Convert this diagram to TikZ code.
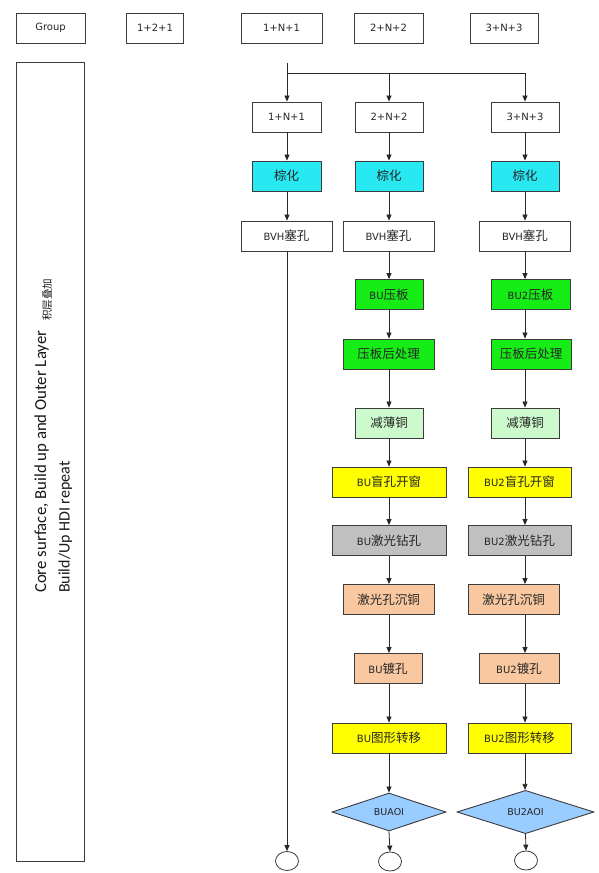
\documentclass[tikz,border=0pt]{standalone}
\usepackage{fontspec}
\setmainfont{DejaVu Sans}
\newfontfamily\cjkf{Noto Sans CJK SC}
\newfontfamily\calf{Carlito}
\usetikzlibrary{arrows.meta,shapes.geometric}
\newcommand\zh[1]{{\cjkf\fontsize{12.5}{14}\selectfont #1}}
\definecolor{boxline}{RGB}{60,60,60}
\definecolor{lineclr}{RGB}{40,40,40}
\definecolor{cyanf}{RGB}{40,232,242}
\definecolor{greenf}{RGB}{22,236,22}
\definecolor{lgreenf}{RGB}{204,250,204}
\definecolor{yellowf}{RGB}{255,255,0}
\definecolor{grayf}{RGB}{192,192,192}
\definecolor{peachf}{RGB}{250,200,160}
\definecolor{bluef}{RGB}{153,204,255}
\begin{document}
\begin{tikzpicture}[x=1pt,y=-1pt,
  box/.style={draw=boxline, line width=0.9pt, minimum height=30pt, inner sep=0pt,
    font=\fontsize{10}{12}\selectfont, text=black!85},
  dia/.style={draw=boxline, line width=0.9pt, diamond, fill=bluef, inner sep=0pt,
    minimum height=38pt, font=\fontsize{9.5}{11}\selectfont, text=black!85},
  endc/.style={draw=boxline, line width=0.8pt, ellipse, inner sep=0pt, minimum width=23pt, minimum height=19pt},
  arr/.style={draw=lineclr, line width=0.8pt, -{Triangle[length=6pt,width=5pt]}},
  ln/.style={draw=lineclr, line width=0.8pt}]
\useasboundingbox (0,0) rectangle (599,873);
\fill[white] (0,0) rectangle (599,873);

% header row
\node[box, minimum width=69pt] (hg) at (50.5,28) {Group};
\node[box, minimum width=57pt] (h0) at (155,28) {1+2+1};
\node[box, minimum width=81pt] (h1) at (281.5,28) {1+N+1};
\node[box, minimum width=69pt] (h2) at (388.5,28) {2+N+2};
\node[box, minimum width=68pt] (h3) at (504,28) {3+N+3};

% big left box
\node[draw=boxline, line width=0.9pt, minimum width=68.5pt, minimum height=799pt, inner sep=0pt] (big) at (50.4,462.2) {};
\node[rotate=90, anchor=base west, inner sep=0pt, font=\calf\fontsize{16.8}{18}\selectfont, text=black!90] (lab1) at (46,593)
  {Core surface, Build up and Outer Layer\hspace{10pt}\raisebox{-5pt}{\cjkf\fontsize{10.5}{12}\selectfont 积层叠加}};
\node[rotate=90, anchor=base west, inner sep=0pt, font=\calf\fontsize{16}{18}\selectfont, text=black!90] (lab2) at (69.5,593)
  {Build/Up HDI repeat};

% column axes
\coordinate (X1) at (287,0);
\coordinate (X2) at (389,0);
\coordinate (X3) at (525,0);

% column 1
\node[box, minimum width=69pt] (a1) at (286.5,117) {1+N+1};
\node[box, minimum width=69pt, fill=cyanf] (a2) at (286.5,176) {\zh{棕化}};
\node[box, minimum width=91pt] (a3) at (286.5,236) {BVH\zh{塞孔}};
\node[endc] (ao) at (287,861) {};

% column 2
\node[box, minimum width=68pt] (b1) at (389,117) {2+N+2};
\node[box, minimum width=68pt, fill=cyanf] (b2) at (389,176) {\zh{棕化}};
\node[box, minimum width=91pt] (b3) at (388.5,236) {BVH\zh{塞孔}};
\node[box, minimum width=68pt, fill=greenf] (b4) at (389,294.5) {BU\zh{压板}};
\node[box, minimum width=91pt, fill=greenf] (b5) at (388.5,354) {\zh{压板后处理}};
\node[box, minimum width=68pt, fill=lgreenf] (b6) at (389,423) {\zh{减薄铜}};
\node[box, minimum width=114pt, fill=yellowf] (b7) at (389,482) {BU\zh{盲孔开窗}};
\node[box, minimum width=114pt, fill=grayf] (b8) at (389,540.5) {BU\zh{激光钻孔}};
\node[box, minimum width=91pt, fill=peachf] (b9) at (388.5,599.5) {\zh{激光孔沉铜}};
\node[box, minimum width=68pt, fill=peachf] (b10) at (388,668.5) {BU\zh{镀孔}};
\node[box, minimum width=114pt, fill=yellowf] (b11) at (389,738) {BU\zh{图形转移}};
\node[dia, minimum width=114pt] (b12) at (389,812) {BUAOI};
\node[endc] (bo) at (390,861.5) {};

% column 3
\node[box, minimum width=68pt] (c1) at (525,117) {3+N+3};
\node[box, minimum width=68pt, fill=cyanf] (c2) at (525,176) {\zh{棕化}};
\node[box, minimum width=91pt] (c3) at (525,236) {BVH\zh{塞孔}};
\node[box, minimum width=79pt, fill=greenf] (c4) at (530.5,294.5) {BU2\zh{压板}};
\node[box, minimum width=80pt, fill=greenf] (c5) at (531,354) {\zh{压板后处理}};
\node[box, minimum width=68pt, fill=lgreenf] (c6) at (525,423) {\zh{减薄铜}};
\node[box, minimum width=103pt, fill=yellowf] (c7) at (519.5,482) {BU2\zh{盲孔开窗}};
\node[box, minimum width=103pt, fill=grayf] (c8) at (519.5,540.5) {BU2\zh{激光钻孔}};
\node[box, minimum width=91pt, fill=peachf] (c9) at (513.5,599.5) {\zh{激光孔沉铜}};
\node[box, minimum width=80pt, fill=peachf] (c10) at (519,668.5) {BU2\zh{镀孔}};
\node[box, minimum width=103pt, fill=yellowf] (c11) at (519.5,738) {BU2\zh{图形转移}};
\node[dia, minimum width=137pt] (c12) at (525.5,812) {BU2AOI};
\node[endc] (co) at (526,860.5) {};

% top distribution
\coordinate (top) at (287,63);
\coordinate (j1) at (287,73);
\coordinate (j3) at (525,73);
\draw[ln] (j1) -- (j3);
\draw[arr] (top) -- (a1.north -| X1);
\draw[arr] (j1 -| X2) -- (b1.north -| X2);
\draw[arr] (j3) -- (c1.north -| X3);

% column 1 arrows
\draw[arr] (a1.south -| X1) -- (a2.north -| X1);
\draw[arr] (a2.south -| X1) -- (a3.north -| X1);
\draw[arr] (a3.south -| X1) -- (ao.north);

% column 2 arrows
\foreach \p/\q in {b1/b2,b2/b3,b3/b4,b4/b5,b5/b6,b6/b7,b7/b8,b8/b9,b9/b10,b10/b11,b11/b12}
  \draw[arr] (\p.south -| X2) -- (\q.north -| X2);
\draw[arr] (b12.south) -- (bo.north);

% column 3 arrows
\foreach \p/\q in {c1/c2,c2/c3,c3/c4,c4/c5,c5/c6,c6/c7,c7/c8,c8/c9,c9/c10,c10/c11,c11/c12}
  \draw[arr] (\p.south -| X3) -- (\q.north -| X3);
\draw[arr] (c12.south) -- (co.north);
\end{tikzpicture}
\end{document}
